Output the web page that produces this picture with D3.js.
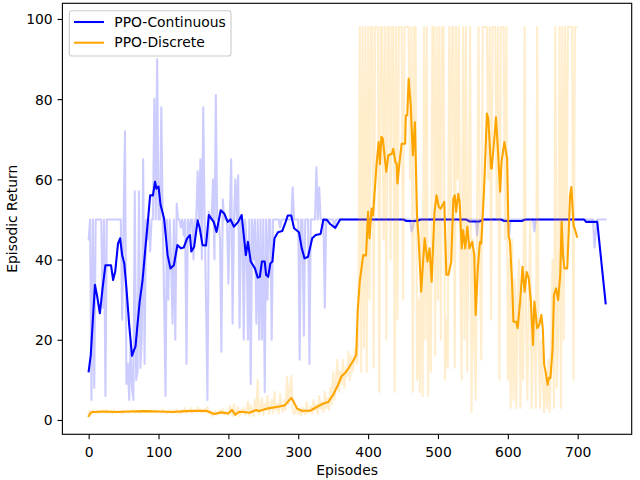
<!DOCTYPE html>
<html><head><meta charset="utf-8">
<script src="https://cdn.jsdelivr.net/npm/d3@7"></script>
<style>body{margin:0;background:#fff}svg{display:block;font-family:"DejaVu Sans",sans-serif}</style>
</head><body><svg id="c" width="640" height="480"></svg>
<script>
// ---- data ----
const rawStep = 2; // raw returns sampled every 2 episodes
const contRaw = [
45,50,5,50,8,50,50,50,50,50,
28,50,6,50,50,50,50,50,50,50,
50,50,50,50,25,50,72,9,14,5,
20,8,5,57,10,12,57,13,20,65,
14,50,45,50,42,50,50,80,50,90,
50,50,78,50,30,6,50,30,50,40,
24,50,20,54,50,50,48,50,46,50,
14,50,46,50,50,40,50,50,62,50,
65,40,78,50,30,5,52,50,50,60,
40,81,50,50,45,17,55,50,50,50,
34,50,65,24,50,60,50,61,23,50,
50,20,50,44,20,50,9,50,40,50,
24,50,20,50,20,50,7,50,30,50,
50,20,50,50,50,50,50,48,50,50,
50,50,50,50,50,50,58,50,50,50,
50,15,50,50,21,50,50,50,14,50,
50,50,50,63,50,58,50,50,50,28,
50,50,50,50,50,50,48,50,50,50,
50,50,50,50,50,50,50,50,50,50,
50,50,50,50,50,50,50,50,50,50,
50,50,50,50,50,50,50,50,50,50,
50,50,50,50,50,50,50,50,50,50,
50,50,50,50,50,50,50,50,50,50,
50,47,48,50,50,50,50,50,50,50,
50,50,50,50,50,50,50,50,50,50,
50,50,50,50,50,50,50,50,50,50,
50,50,50,50,50,50,50,50,50,50,
50,50,50,50,50,50,50,50,46,50,
50,50,50,50,50,50,50,50,50,50,
50,50,50,50,50,50,50,50,50,50,
50,46,50,50,50,50,50,50,50,50,
50,50,50,50,50,50,50,50,50,47,
50,50,50,50,50,50,50,50,50,50,
50,50,50,50,50,50,50,50,50,50,
50,50,50,50,50,50,50,50,50,50,
50,50,50,50,50,50,50,50,50,50,
50,50,43,47,50,50,50,50,50,50,
50];
const discRaw = [
1.8,2.2,2.0,2.4,1.9,2.1,2.3,1.7,2.2,2.0,
2.3,1.9,2.1,2.5,1.8,2.0,2.2,1.6,2.4,2.1,
1.9,2.3,2.0,2.2,1.7,2.4,2.1,2.0,2.3,1.8,
2.2,2.0,2.5,1.9,2.1,2.3,2.0,1.8,2.4,2.2,
2.0,2.3,2.1,1.9,2.5,2.2,2.0,2.4,1.8,2.1,
2.3,2.1,1.9,2.6,2.0,2.2,1.7,2.4,2.1,2.0,
2.4,1.8,2.2,2.6,2.0,2.3,1.6,2.5,2.1,2.9,
1.8,2.4,2.2,3.0,1.7,2.5,2.3,2.0,3.1,2.2,
2.6,1.9,2.4,2.8,2.1,3.2,1.6,2.3,1.2,1.0,
1.9,2.2,1.4,2.0,2.4,1.5,2.7,1.3,2.0,1.8,
1.2,3.5,2.2,1.0,4.0,1.1,2.0,3.2,1.0,2.5,
1.8,3.0,1.3,2.4,4.5,1.1,3.6,2.0,1.0,5.0,
2.0,10.0,1.5,3.0,5.5,1.3,4.0,2.5,6.0,1.5,
3.5,5.0,1.8,7.0,2.5,4.0,1.6,6.5,3.0,2.0,
5.0,2.5,10.7,4.0,7.5,11.0,3.0,1.5,2.0,3.5,
1.5,2.5,1.2,3.0,2.0,1.4,4.5,1.8,2.2,3.5,
1.6,5.0,2.5,3.8,1.5,6.0,2.8,4.5,2.0,7.0,
3.0,5.5,2.5,8.0,4.0,12.0,5.0,10.0,15.0,7.0,
12.0,9.0,15.0,8.0,13.0,11.0,17.0,10.0,16.0,12.0,
15.0,18.0,14.0,20.0,98,12,98,18,98,12,
98,30,98,98,13,98,98,98,7,98,
98,45,98,20,98,98,40,98,98,7,
98,25,98,98,98,30,98,98,98,98,
60,98,7,98,98,10,30,7,50,6,
98,20,98,6,40,12,98,98,16,98,
30,98,20,98,98,10,25,13,98,40,
98,98,13,98,60,98,35,10,98,20,
98,12,55,98,2,45,20,5,50,98,
40,15,98,98,98,98,60,98,25,98,
98,98,50,98,10,98,98,98,45,98,
10,40,3,45,5,35,3,30,40,3,
30,10,98,25,5,30,50,3,20,30,
3,98,20,3,20,10,2,12,3,15,
2,20,40,3,98,8,20,98,3,98,
20,98,40,98,98,98,98,10,98,98];
const contSmoothEp = [0,3,6,9,12,16,20,24,32,35,38,42,45,48,51,54,58,62,65,67,70,73,77,82,85,88,92,95,97,100,103,108,113,117,122,127,132,136,141,145,147,151,156,159,163,168,172,179,183,189,194,199,203,208,214,219,222,225,228,232,238,242,245,248,252,254,257,260,263,266,271,277,282,285,290,294,301,305,309,314,320,325,332,336,341,346,353,360,450,455,470,475,540,545,560,565,590,595,620,625,709,712,728,740];
const contSmoothVal = [12.1,16.2,25,33.7,31,26.6,33,38.6,38.6,34.9,37,44,45.3,41.1,39,33,23.7,16,17.5,18.3,24,29.5,34.6,44.4,50,56,56,59.4,57.7,58.2,53.6,50.2,41.1,37.8,38.6,43.6,42.8,43,45.3,46.1,42,43.2,49.8,47.8,43.6,43.5,51.1,49.4,46.9,52.3,51.5,49.4,50,48.2,49.4,51.1,46.1,41.1,44.4,39.5,37.8,35.5,35.7,39.5,39.5,36.2,35.7,39,39.5,45.3,46.8,47.1,49.4,51,51,47.8,46.8,42.8,40.3,40.7,45.3,46.1,46.4,50,49.9,48.8,47.9,50,50,49.6,49.6,50,50,49.5,49.5,50,50,49.6,49.6,50,50,49.4,49.4,29.1];
const discSmoothEp = [0,3,6,10,20,40,60,80,100,120,140,160,170,180,190,200,205,210,215,222,230,240,243,257,271,281,290,293,298,305,317,327,336,343,350,357,362,367,372,378,383,385,388,393,397,400,402,405,407,412,415,417,419,421,426,429,434,436,439,441,442,445,448,453,454,456,458,461,464,467,470,472,476,479,481,485,488,491,495,498,501,504,509,512,515,519,522,524,526,529,531,534,536,539,542,545,549,552,554,557,560,562,566,568,570,572,576,577,581,583,586,589,591,595,599,601,603,606,608,612,614,618,621,624,627,630,633,636,638,642,645,648,650,652,654,657,659,661,664,666,669,672,675,677,679,681,685,687,689,691,694,697,699];
const discSmoothVal = [1,1.8,2.0,2.0,2.1,2.0,2.1,2.2,2.1,2.0,2.2,2.3,2.2,1.5,1.9,1.6,2.5,1.3,2.0,2.0,1.8,2.5,2.2,2.9,3.3,3.7,5.5,4.7,2.9,2.3,2.3,3.3,4.1,4.5,6.3,8.8,10.9,11.7,12.9,14.6,16.2,27,34.5,41.1,41,51.9,45.3,52.7,51,63.5,69.3,63.8,70.6,70.2,61.9,66,66.4,67.6,64.3,63.8,59,64.3,68.9,68.9,75.9,76,85.1,78.5,66,74.2,51,46.1,32,40.3,45.3,39.5,42.8,34.5,51.9,56,53.2,52.7,54.4,36.2,36.2,39.5,55.2,56,51.9,56.4,54.4,42.8,47.3,42.8,48.2,42.8,44.4,41.1,26.2,37.8,44.4,44,57.7,66.8,76.4,75.1,62.7,62.7,71,75.5,66.8,56.9,64.3,69.3,65.2,46.1,44.4,34.5,24.5,24.5,22.9,30.3,38.2,32,36.9,35.3,29.5,18.7,29.5,22.9,23.7,26.2,22.9,13.8,12.1,8.8,10.5,10.5,17.6,31.2,32.8,29.9,36.2,49.4,41.1,37.8,37.8,46.1,56,58.1,48.6,47,45.7];
const xTicks = [0,100,200,300,400,500,600,700];
const yTicks = [0,20,40,60,80,100];
const seriesNames = ["PPO-Continuous","PPO-Discrete"];
const seriesColors = ["blue","orange"];
const xLabel = "Episodes", yLabel = "Episodic Return";

// ---- drawing ----
const svg = d3.select("#c");
const L = 62.4, R = 631.7, T = 3.3, B = 434.3;
const FS = "13.9px";
const LW = 2.08;   // 1.5pt at 100 dpi
const SW = 1.11;   // 0.8pt
const x = d3.scaleLinear().domain([-37.6, 777.3]).range([L, R]);
const y = d3.scaleLinear().domain([-3.57, 103.9]).range([B, T]);

svg.append("rect").attr("width",640).attr("height",480).attr("fill","white");
svg.append("defs").append("clipPath").attr("id","clip")
  .append("rect").attr("x",L).attr("y",T).attr("width",R-L).attr("height",B-T);

const line = d3.line().x(d => x(d[0])).y(d => y(d[1]));
const plot = svg.append("g").attr("clip-path","url(#clip)");

const contRawPts = contRaw.map((v,i) => [i*rawStep, v]);
const discRawPts = discRaw.map((v,i) => [i*rawStep, v]);
const contSm = contSmoothEp.map((e,i) => [e, contSmoothVal[i]]);
const discSm = discSmoothEp.map((e,i) => [e, discSmoothVal[i]]);

function drawLine(pts, color, op) {
  plot.append("path").attr("d", line(pts)).attr("fill","none")
    .attr("stroke", color).attr("stroke-opacity", op)
    .attr("stroke-width", LW).attr("stroke-linejoin","round").attr("stroke-linecap","square");
}
drawLine(contRawPts, seriesColors[0], 0.2);
drawLine(contSm, seriesColors[0], 1);
drawLine(discRawPts, seriesColors[1], 0.2);
drawLine(discSm, seriesColors[1], 1);

// axes
const xAxis = svg.append("g").attr("transform", `translate(0,${B})`)
  .call(d3.axisBottom(x).tickValues(xTicks).tickSize(4.86).tickFormat(d3.format("d")));
xAxis.select(".domain").remove();
xAxis.selectAll("line").attr("stroke","black").attr("stroke-width",SW);
xAxis.selectAll("text").attr("dy",null).attr("y",22.4)
  .attr("font-size",FS).attr("font-family","DejaVu Sans").attr("fill","black");

const yAxis = svg.append("g").attr("transform", `translate(${L},0)`)
  .call(d3.axisLeft(y).tickValues(yTicks).tickSize(4.86).tickPadding(4.86).tickFormat(d3.format("d")));
yAxis.select(".domain").remove();
yAxis.selectAll("line").attr("stroke","black").attr("stroke-width",SW);
yAxis.selectAll("text").attr("dy","0.36em")
  .attr("font-size",FS).attr("font-family","DejaVu Sans").attr("fill","black");

// spines
svg.append("rect").attr("x",L).attr("y",T).attr("width",R-L).attr("height",B-T)
  .attr("fill","none").attr("stroke","black").attr("stroke-width",SW);

// axis labels
svg.append("text").attr("x",(L+R)/2).attr("y",475).attr("text-anchor","middle")
  .attr("font-size",FS).attr("fill","black").text(xLabel);
svg.append("text").attr("transform",`translate(17,${(T+B)/2}) rotate(-90)`)
  .attr("text-anchor","middle").attr("font-size",FS).attr("fill","black").text(yLabel);

// legend
const lg = svg.append("g");
lg.append("rect").attr("x",69.3).attr("y",10.7).attr("width",161.7).attr("height",45.3)
  .attr("rx",2.8).attr("fill","white").attr("fill-opacity",0.8)
  .attr("stroke","#cccccc").attr("stroke-width",1.11);
seriesNames.forEach((n,i) => {
  const ly = 22 + i*20.7;
  lg.append("line").attr("x1",74).attr("x2",104).attr("y1",ly).attr("y2",ly)
    .attr("stroke",seriesColors[i]).attr("stroke-width",LW);
  lg.append("text").attr("x",114.3).attr("y",ly).attr("dy","0.34em")
    .attr("font-size",FS).attr("fill","black").text(n);
});
</script></body></html>
